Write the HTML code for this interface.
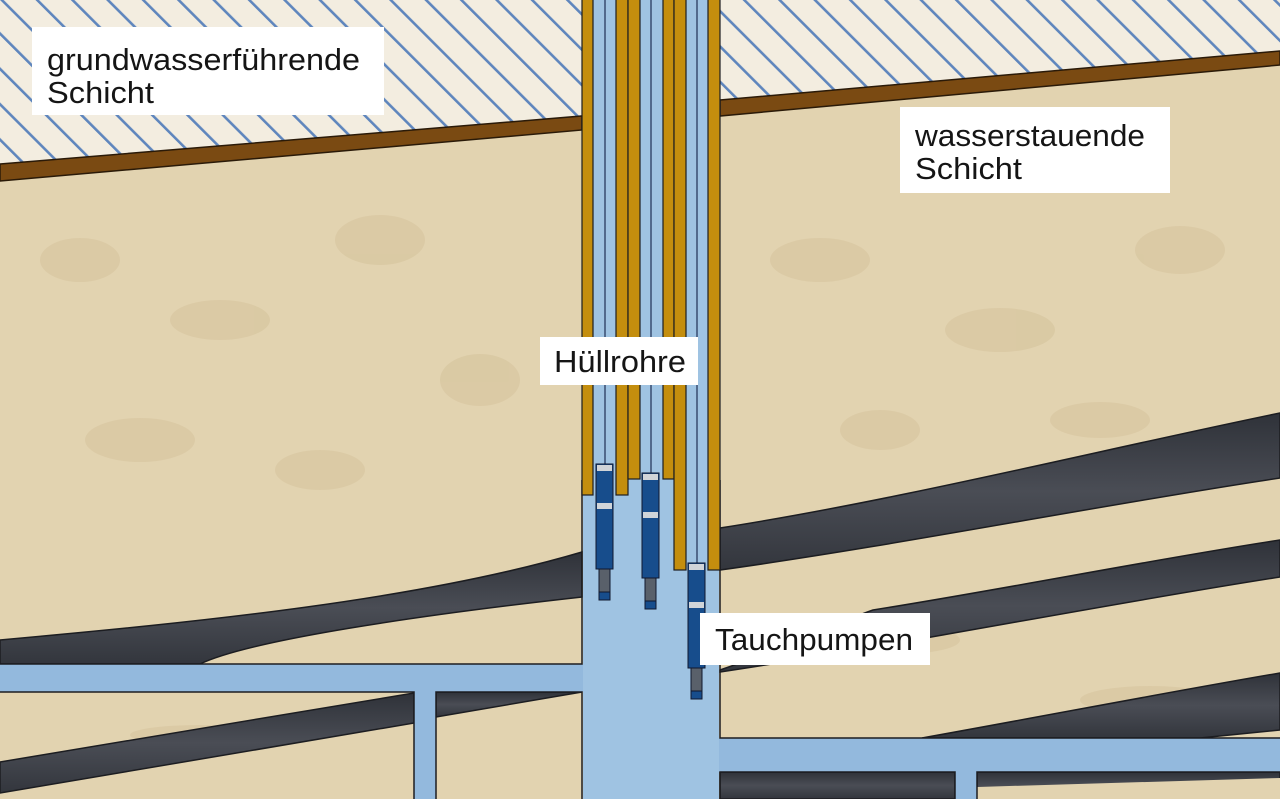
<!DOCTYPE html>
<html><head><meta charset="utf-8"><style>
html,body{margin:0;padding:0;width:1280px;height:799px;overflow:hidden;background:#e2d3b0}
svg{display:block}
text{font-family:"Liberation Sans",sans-serif;fill:#151515}
</style></head><body>
<svg width="1280" height="799" viewBox="0 0 1280 799" xmlns="http://www.w3.org/2000/svg">
<defs>
<pattern id="hatch" patternUnits="userSpaceOnUse" width="25" height="25" patternTransform="rotate(-45)">
<rect width="25" height="25" fill="#f3ede0"/>
<rect x="0" y="0" width="2.6" height="25" fill="#5f86bd"/>
</pattern>
<linearGradient id="dark" x1="0" y1="0" x2="0" y2="1">
<stop offset="0" stop-color="#2f3239"/><stop offset="0.5" stop-color="#4a4d55"/><stop offset="1" stop-color="#33363d"/>
</linearGradient>
<linearGradient id="water" x1="0" y1="0" x2="1" y2="0">
<stop offset="0" stop-color="#8fb4db"/><stop offset="0.5" stop-color="#a3c6e3"/><stop offset="1" stop-color="#86add5"/>
</linearGradient>
</defs>
<rect width="1280" height="799" fill="#e2d3b0"/>
<g fill="#d9c8a2" opacity="0.8">
<ellipse cx="80" cy="260" rx="40" ry="22"/><ellipse cx="220" cy="320" rx="50" ry="20"/><ellipse cx="380" cy="240" rx="45" ry="25"/>
<ellipse cx="140" cy="440" rx="55" ry="22"/><ellipse cx="320" cy="470" rx="45" ry="20"/><ellipse cx="480" cy="380" rx="40" ry="26"/>
<ellipse cx="820" cy="260" rx="50" ry="22"/><ellipse cx="1000" cy="330" rx="55" ry="22"/><ellipse cx="1180" cy="250" rx="45" ry="24"/>
<ellipse cx="880" cy="430" rx="40" ry="20"/><ellipse cx="1100" cy="420" rx="50" ry="18"/>
<ellipse cx="900" cy="640" rx="60" ry="14"/><ellipse cx="1150" cy="700" rx="70" ry="14"/><ellipse cx="200" cy="735" rx="70" ry="10"/>
</g>
<polygon points="0,0 582,0 582,122 0,172" fill="url(#hatch)"/>
<polygon points="720,0 1280,0 1280,55 720,106" fill="url(#hatch)"/>
<polygon points="0,164 582,116 582,130 0,181" fill="#7a4a12" stroke="#2a1a08" stroke-width="1.5"/>
<polygon points="720,100 1280,51 1280,65 720,116" fill="#7a4a12" stroke="#2a1a08" stroke-width="1.5"/>
<g fill="url(#dark)" stroke="#1c1d21" stroke-width="1.5">
<path d="M0,640 C200,622 420,600 582,552 L582,597 C420,615 250,640 200,664 L0,664 Z"/>
<path d="M0,762 L414,693 L414,723 L0,793 Z"/>
<path d="M436,692 L582,692 L436,717 Z"/>
<path d="M720,528 C900,500 1100,450 1280,413 L1280,478 C1100,505 900,545 720,570 Z"/>
<path d="M873,610 C1000,590 1150,560 1280,540 L1280,577 C1100,605 900,645 720,672 L720,670 C780,650 830,625 873,610 Z"/>
<path d="M922,738 C1050,715 1180,690 1280,673 L1280,730 C1240,734 1220,736 1200,738 Z"/>
<path d="M720,772 L955,772 L955,799 L720,799 Z"/>
<path d="M977,772 L1280,772 L1280,799 L977,799 Z"/>
</g>
<g fill="#e2d3b0"><path d="M977,787 L1280,778 L1280,799 L977,799 Z"/></g>
<rect x="-2" y="664" width="586" height="28" fill="#93b9dd"/>
<rect x="414" y="690" width="22" height="112" fill="#93b9dd"/>
<rect x="718" y="738" width="564" height="34" fill="#93b9dd"/>
<rect x="955" y="770" width="22" height="32" fill="#93b9dd"/>
<rect x="583" y="480" width="136" height="322" fill="#9fc3e2"/>
<g stroke="#1c1d21" stroke-width="1.5" fill="none">
<path d="M0,664 L582,664 L582,480"/><path d="M0,692 L414,692 L414,799"/><path d="M436,799 L436,692 L582,692 L582,799"/>
<path d="M720,480 L720,738 L1280,738"/><path d="M720,799 L720,772 L955,772 L955,799"/><path d="M977,799 L977,772 L1280,772"/>
</g>
<g stroke="#1c1d21" stroke-width="1.2">
<rect x="582" y="-2" width="138" height="497" fill="#9fc3e2" stroke="none"/>
<rect x="582" y="-2" width="11" height="497" fill="#c48e0e"/>
<rect x="616" y="-2" width="12" height="497" fill="#c48e0e"/>
<rect x="628" y="-2" width="12" height="481" fill="#c48e0e"/>
<rect x="663" y="-2" width="11" height="481" fill="#c48e0e"/>
<rect x="674" y="-2" width="12" height="572" fill="#c48e0e"/>
<rect x="708" y="-2" width="12" height="572" fill="#c48e0e"/>
<line x1="605" y1="0" x2="605" y2="465" stroke="#1f2f55"/>
<line x1="651" y1="0" x2="651" y2="474" stroke="#1f2f55"/>
<line x1="697" y1="0" x2="697" y2="564" stroke="#1f2f55"/>
</g>
<g id="p" stroke="#10182e" stroke-width="1">
<rect x="596" y="464" width="17" height="105" fill="#174d8c"/>
<rect x="597" y="465" width="15" height="6" fill="#d0d4d8" stroke="none"/>
<rect x="597" y="503" width="15" height="6" fill="#d0d4d8" stroke="none"/>
<rect x="599" y="569" width="11" height="31" fill="#59606a"/>
<rect x="599" y="592" width="11" height="8" fill="#174d8c"/>
</g>
<use href="#p" x="46" y="9"/>
<use href="#p" x="92" y="99"/>
<rect x="32" y="27" width="352" height="88" fill="#fff"/>
<text x="47" y="70" font-size="31" textLength="313" lengthAdjust="spacingAndGlyphs">grundwasserführende</text>
<text x="47" y="103" font-size="31" textLength="107" lengthAdjust="spacingAndGlyphs">Schicht</text>
<rect x="900" y="107" width="270" height="86" fill="#fff"/>
<text x="915" y="146" font-size="31" textLength="230" lengthAdjust="spacingAndGlyphs">wasserstauende</text>
<text x="915" y="179" font-size="31" textLength="107" lengthAdjust="spacingAndGlyphs">Schicht</text>
<rect x="540" y="337" width="158" height="48" fill="#fff"/>
<text x="554" y="372" font-size="31" textLength="132" lengthAdjust="spacingAndGlyphs">Hüllrohre</text>
<rect x="700" y="613" width="230" height="52" fill="#fff"/>
<text x="715" y="650" font-size="31" textLength="198" lengthAdjust="spacingAndGlyphs">Tauchpumpen</text>
</svg>
</body></html>
